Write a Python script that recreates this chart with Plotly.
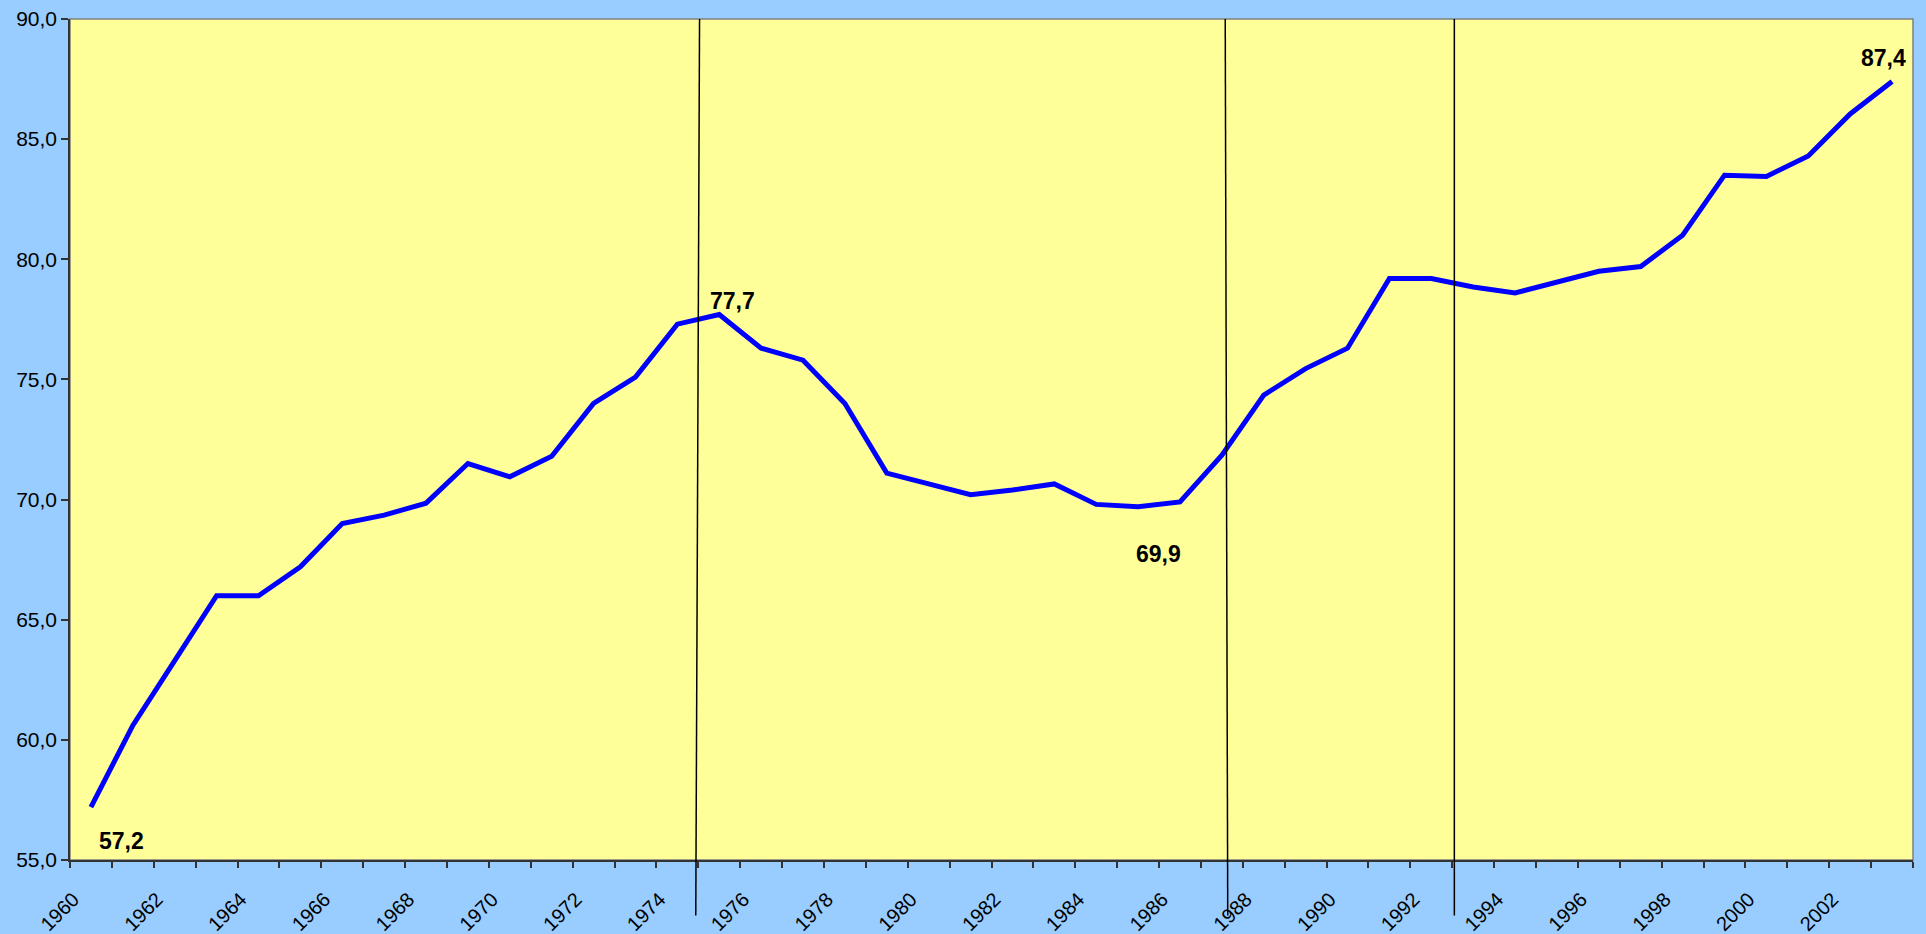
import plotly.graph_objects as go

# --- data ---
years = list(range(1960, 2004))
values = [57.2, 60.6, 63.3, 66.0, 66.0, 67.2, 69.0, 69.35, 69.85, 71.5,
          70.95, 71.8, 74.0, 75.1, 77.3, 77.7, 76.3, 75.8, 74.0, 71.1,
          70.65, 70.2, 70.4, 70.65, 69.8, 69.7, 69.9, 71.85, 74.35, 75.45,
          76.3, 79.2, 79.2, 78.85, 78.6, 79.05, 79.5, 79.7, 81.0, 83.5,
          83.45, 84.3, 86.05, 87.4]
label_years = years[::2]

# labelled points: (year, text, xanchor, xshift, yshift)
point_labels = [
    (1960, "57,2", "left", 6, -34),
    (1975, "77,7", "left", -11, 14),
    (1986, "69,9", "right", 3, -52),
    (2003, "87,4", "center", -9, 23),
]

# separator lines: (x top, x bottom)
markers = [(1974.53, 1974.44), (1987.08, 1987.14), (1992.55, 1992.55)]

fig = go.Figure()

fig.add_trace(go.Scatter(
    x=years, y=values, mode="lines",
    line=dict(color="#0000FF", width=5),
    showlegend=False, hoverinfo="skip",
))

for yr, txt, anchor, dx, dy in point_labels:
    fig.add_annotation(
        x=yr, y=values[years.index(yr)], text=f"<b>{txt}</b>",
        showarrow=False, xanchor=anchor, yanchor="middle",
        xshift=dx, yshift=dy,
        font=dict(family="Liberation Sans, Arial", size=23, color="black"),
    )

for xt, xb in markers:
    fig.add_shape(type="line", xref="x", yref="paper",
                  x0=xb, y0=-0.066, x1=xt, y1=1,
                  line=dict(color="black", width=1.5))

# plot area border
fig.add_shape(type="rect", xref="paper", yref="paper", x0=0, y0=0, x1=1, y1=1,
              line=dict(color="#808080", width=1.5), layer="below")

# excel puts the slanted year labels just right of the category's left boundary
fig.update_xaxes(
    range=[1959.5, 2003.5],
    tickmode="array", tickvals=[y - 0.42 for y in label_years],
    ticktext=[str(y) for y in label_years],
    ticks="", tickangle=-45, ticklabelstandoff=18,
    tickfont=dict(family="Liberation Sans, Arial", size=20, color="black"),
    showline=True, linecolor="#333333", linewidth=1.5,
    showgrid=False, zeroline=False,
    minor=dict(tickmode="array", tickvals=[y - 0.5 for y in years] + [2003.5],
               ticks="outside", ticklen=6, tickcolor="#333333", tickwidth=1.5),
)
fig.update_yaxes(
    range=[55, 90], dtick=5, tickformat=".1f",
    ticks="outside", ticklen=7, tickcolor="#333333", tickwidth=1.5,
    tickfont=dict(family="Liberation Sans, Arial", size=21, color="black"),
    showline=True, linecolor="#333333", linewidth=1.5,
    showgrid=False, zeroline=False,
)

fig.update_layout(
    width=1926, height=934,
    margin=dict(l=70, r=13, t=19, b=74, autoexpand=False),
    paper_bgcolor="#99CCFF", plot_bgcolor="#FFFF99",
    separators=",.",
)

fig.write_html("out.html", config={"displayModeBar": False},
               post_script="document.body.style.margin='0px';")
